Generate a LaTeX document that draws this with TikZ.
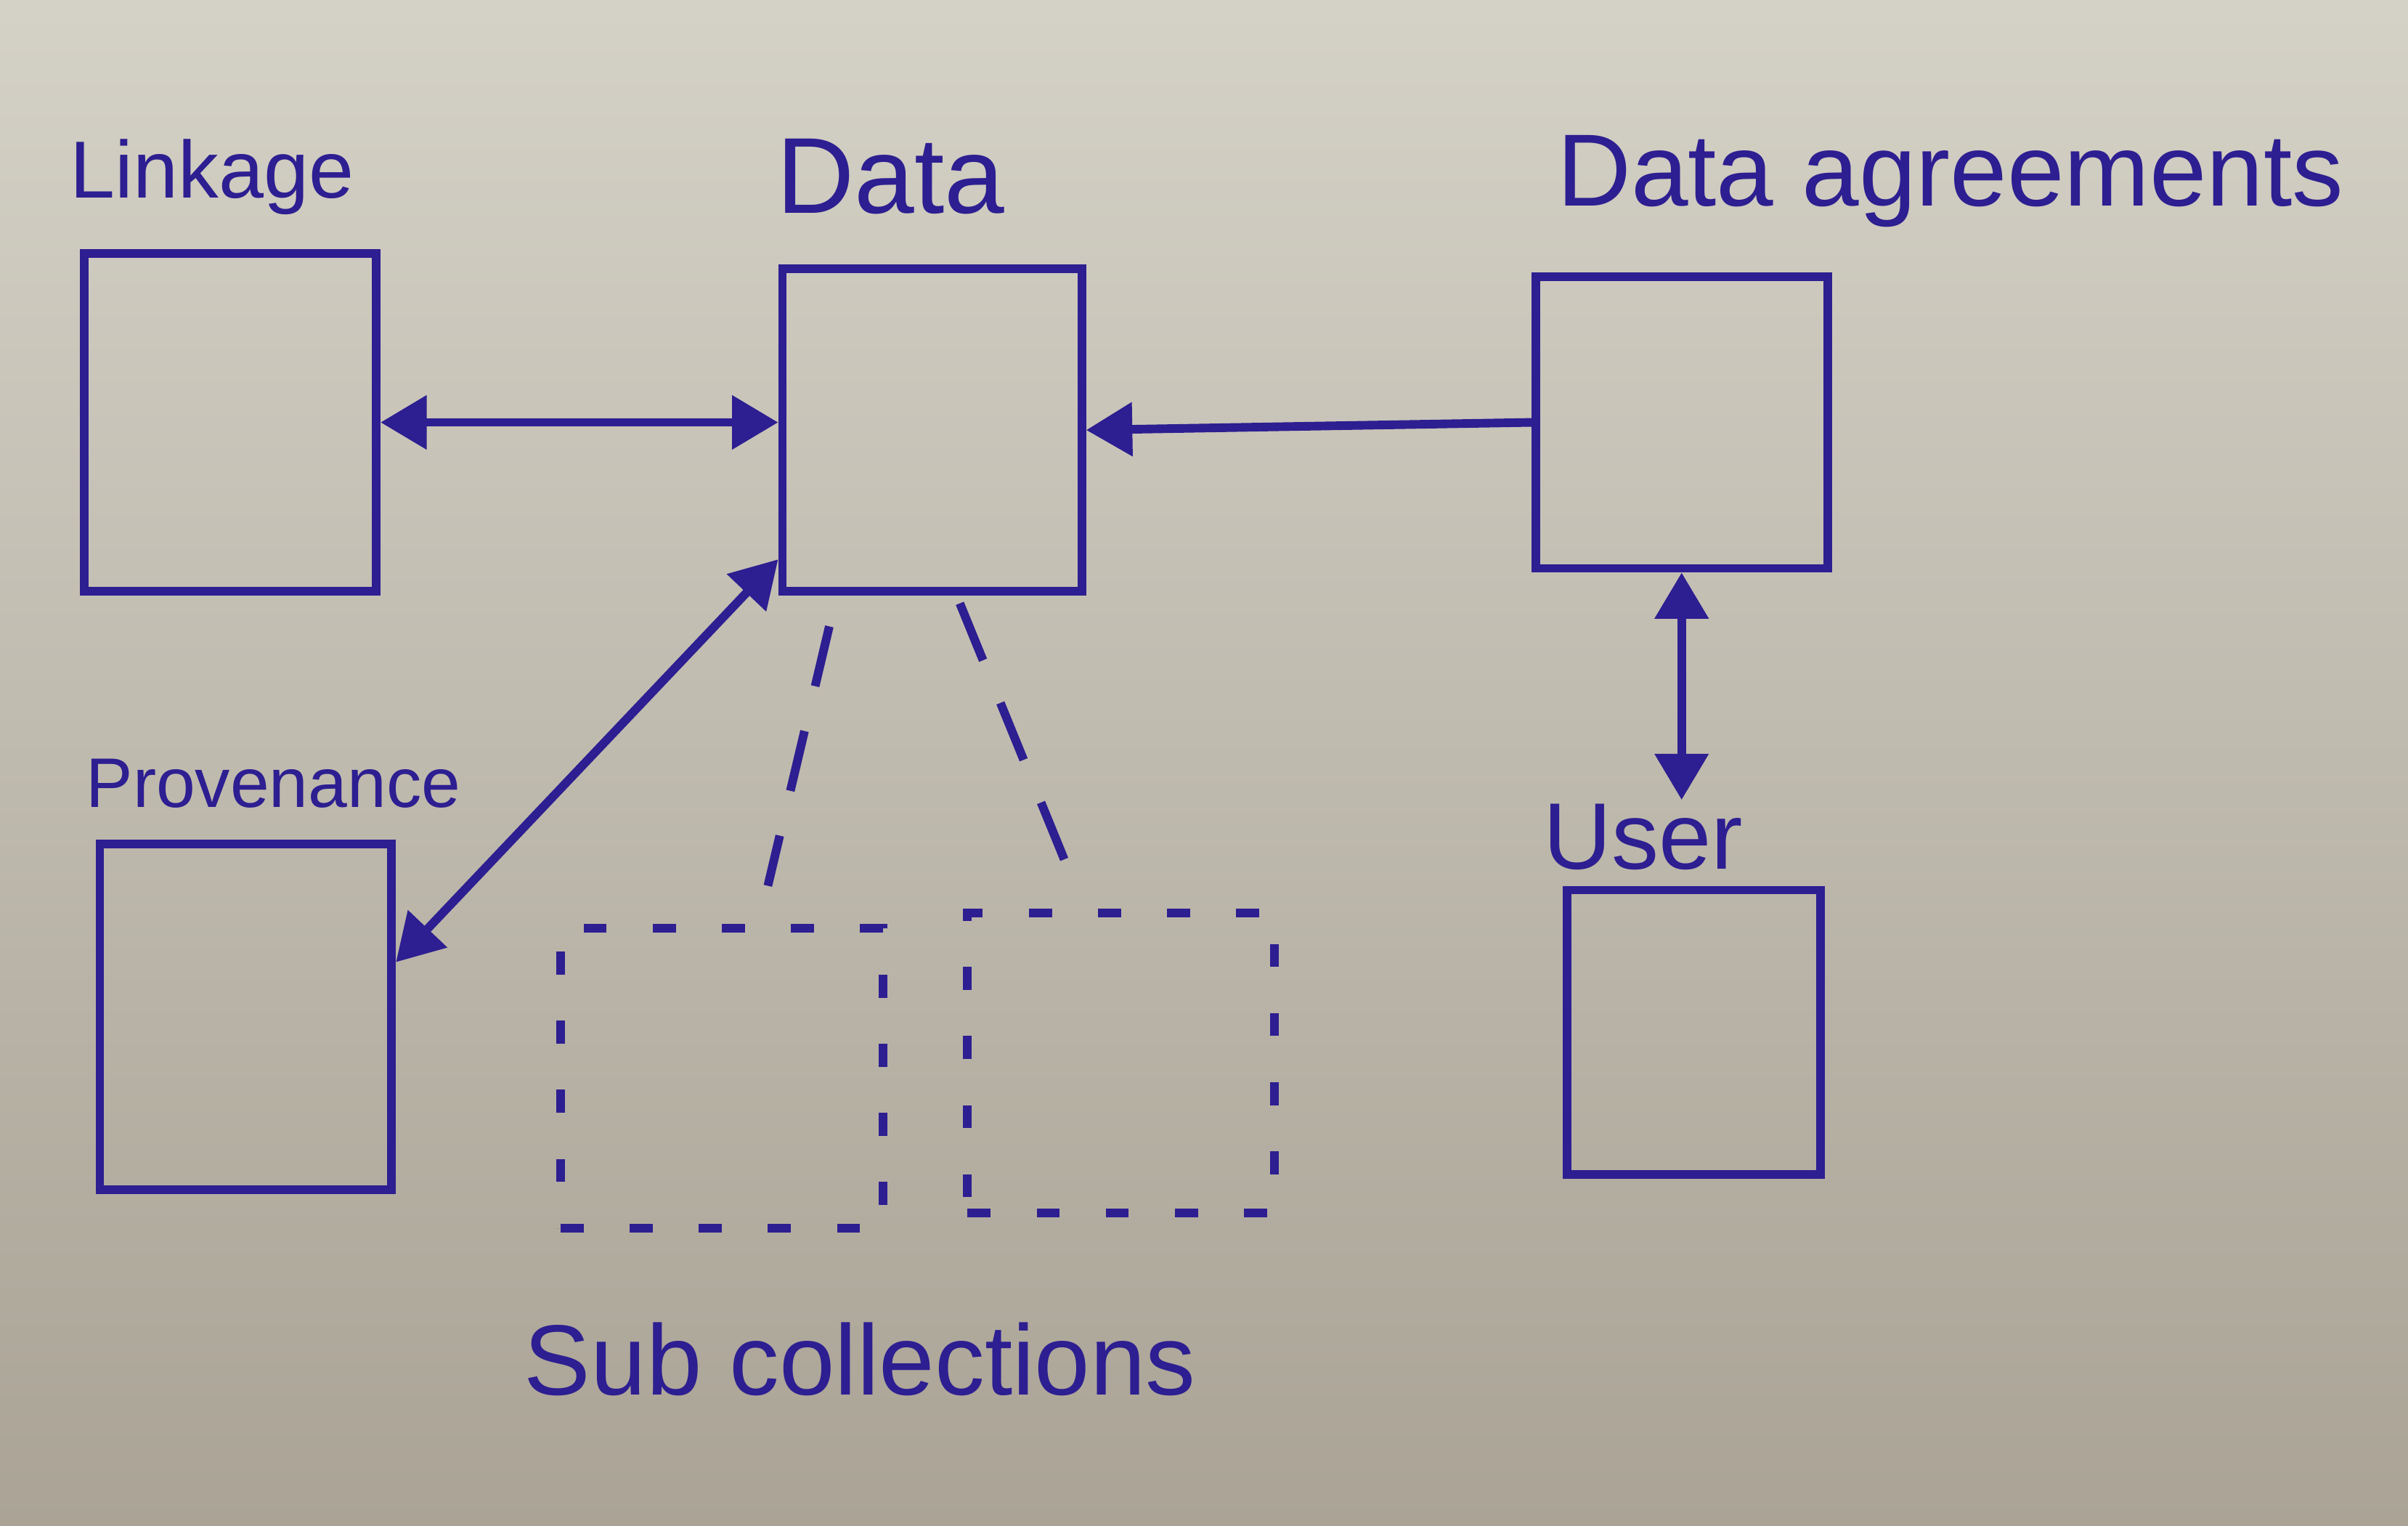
\documentclass[tikz,border=0pt]{standalone}
\usepackage{fontspec}
\setmainfont{Liberation Sans}
\usepackage{tikz}
\usetikzlibrary{calc,arrows.meta}
\definecolor{ink}{RGB}{45,30,145}
\definecolor{paperhi}{RGB}{212,209,198}
\definecolor{paperlo}{RGB}{170,163,150}

\begin{document}
\begin{tikzpicture}[line width=1.6pt,>={Triangle[length=3mm,width=3.4mm]},
  box/.style={draw=ink,inner sep=0pt},
  subbox/.style={draw=ink,inner sep=0pt,dash pattern=on 1.5mm off 3mm},
  lab/.style={text=ink,inner sep=0pt,font=\fontsize{19}{22}\selectfont},
  conn/.style={draw=ink},
  dashconn/.style={draw=ink,dash pattern=on 4mm off 3mm}]
\shade[top color=paperhi,bottom color=paperlo] (0,0) rectangle (15.68,9.93);
\useasboundingbox (0,0) rectangle (15.68,9.93);
\node[box,minimum width=1.9cm,minimum height=2.2cm](link)at(1.50,7.18){};
\node[box,minimum width=1.95cm,minimum height=2.1cm](data)at(6.07,7.13){};
\node[box,minimum width=1.9cm,minimum height=1.9cm](agree)at(10.95,7.18){};
\node[box,minimum width=1.9cm,minimum height=2.25cm](prov)at(1.60,3.31){};
\node[box,minimum width=1.65cm,minimum height=1.85cm](user)at(11.03,3.21){};
\node[subbox,minimum width=2.1cm,minimum height=1.95cm](sub1)at(4.70,2.91){};
\node[subbox,minimum width=2.0cm,minimum height=1.95cm](sub2)at(7.30,3.01){};
\node[lab,font=\fontsize{15}{18}\selectfont](linklab)at(1.38,8.78){Linkage};
\node[lab,font=\fontsize{20}{24}\selectfont](datalab)at(5.80,8.78){Data};
\node[lab](agreelab)at(12.70,8.75){Data agreements};
\node[lab,font=\fontsize{13}{16}\selectfont](provlab)at(1.78,4.83){Provenance};
\node[lab,font=\fontsize{17.5}{21}\selectfont](userlab)at(10.70,4.48){User};
\node[lab,font=\fontsize{18.5}{22}\selectfont](sublab)at(5.60,1.08){Sub collections};
\draw[conn,<->](link.east)--(link.east -| data.west);
\draw[conn,->](agree.west)--(data.east);
\draw[conn,<->](data.220)--(prov.20);
\draw[conn,<->](agree.south)--(agree.south |- userlab.north);
\draw[dashconn]($(data.south)+(-0.67,-0.2)$)--($(sub1.north)+(0.3,0.25)$);
\draw[dashconn]($(data.south)+(0.18,-0.05)$)--($(sub2.north)+(-0.3,0.15)$);
\end{tikzpicture}
\end{document}
